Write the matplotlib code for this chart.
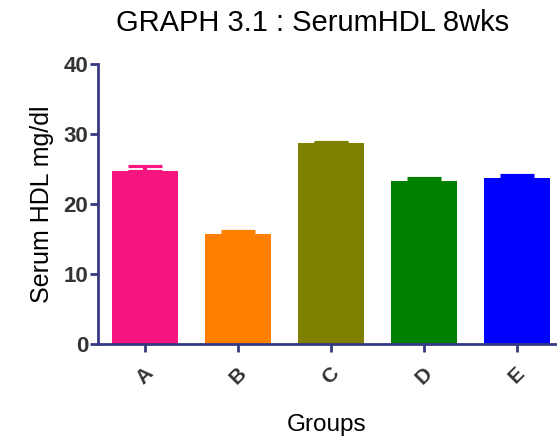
import numpy as np
from matplotlib import pyplot as plt

## data
groups = ['A', 'B', 'C', 'D', 'E']
means = [24.7, 15.7, 28.7, 23.3, 23.7]
sems = [0.8, 0.45, 0.2, 0.4, 0.5]
colors = ['#f7157f', '#ff7f00', '#808000', '#007f00', '#0000ff']
yticks = [0, 10, 20, 30, 40]

axis_col = '#363a80'
plt.rcParams['font.family'] = ['Liberation Sans', 'DejaVu Sans']

fig = plt.figure(figsize=(5.57, 4.43), dpi=100)
ax = fig.add_axes([0.176, 0.2235, 0.822, 0.632])

x = np.arange(len(groups))
ax.bar(x, means, width=0.71, color=colors, zorder=2)
for xi, m, s, c in zip(x, means, sems, colors):
    ax.errorbar(xi, m, yerr=[[0], [s]], color=c, lw=3, capsize=12.5,
                capthick=2.3, zorder=1)

ax.set_xlim(-0.5, 4.42)
ax.set_ylim(0, 40)
ax.set_yticks(yticks)
ax.set_xticks(x)
ax.set_xticklabels(groups, rotation=45, fontweight='bold', fontsize=15, color='#333333')
ax.set_yticklabels([str(t) for t in yticks], fontweight='bold', fontsize=16, color='#333333')

for s in ['top', 'right']:
    ax.spines[s].set_visible(False)
for s in ['left', 'bottom']:
    ax.spines[s].set_color(axis_col)
    ax.spines[s].set_linewidth(2)
ax.tick_params(axis='both', color=axis_col, width=2, length=6, direction='out')
ax.tick_params(axis='x', pad=8)
ax.tick_params(axis='y', pad=1)

ax.set_ylabel('Serum HDL mg/dl', fontsize=18, labelpad=7)
ax.set_xlabel('Groups', fontsize=17.5, labelpad=19)
fig.text(0.562, 0.948, 'GRAPH 3.1 : SerumHDL 8wks', fontsize=21, ha='center', va='center')

fig.savefig('out.png', dpi=100)
